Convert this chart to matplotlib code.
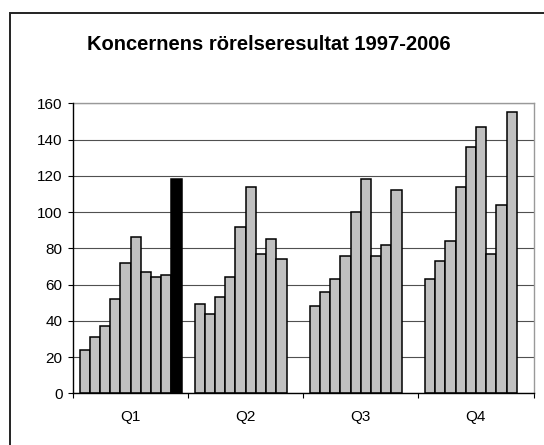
import matplotlib
matplotlib.use("Agg")
import matplotlib.pyplot as plt
from matplotlib.patches import Rectangle
import numpy as np

plt.rcParams['font.family'] = ['Liberation Sans', 'DejaVu Sans']

title = "Koncernens rörelseresultat 1997-2006"
quarters = ["Q1", "Q2", "Q3", "Q4"]
years = [1997, 1998, 1999, 2000, 2001, 2002, 2003, 2004, 2005, 2006]
q1 = [24, 31, 37, 52, 72, 86, 67, 64, 65, 118]
q2 = [49, 44, 53, 64, 92, 114, 77, 85, 74, None]
q3 = [48, 56, 63, 76, 100, 118, 76, 82, 112, None]
q4 = [63, 73, 84, 114, 136, 147, 77, 104, 155, None]
yticks = [0, 20, 40, 60, 80, 100, 120, 140, 160]

series = [q1, q2, q3, q4]

fig = plt.figure(figsize=(5.44, 4.45), dpi=100)
ax = fig.add_axes([73/544, 1-393.3/445, (533.5-73)/544, (393.3-103.3)/445])

n = len(years)
w = 0.0887
for qi, vals in enumerate(series):
    for yi, v in enumerate(vals):
        if v is None:
            continue
        color = 'black' if years[yi] == 2006 else '#c0c0c0'
        x = qi + (yi - (n - 1) / 2) * w
        ax.bar(x, v, width=w, color=color, edgecolor='black', linewidth=1.1, zorder=3)

ax.set_xlim(-0.5, len(quarters) - 0.5)
ax.set_ylim(0, 160)
ax.set_yticks(yticks)
ax.set_yticklabels([str(t) for t in yticks], fontsize=11)
ax.set_xticks(range(len(quarters)))
ax.set_xticklabels(quarters, fontsize=11)
ax.set_xticks(np.arange(-0.5, len(quarters)), minor=True)
ax.tick_params(axis='x', which='major', length=0, pad=12)
ax.tick_params(axis='x', which='minor', length=3.5, width=0.8, direction='out')
ax.tick_params(axis='y', length=3.5, width=0.8, direction='out', pad=4)
ax.yaxis.grid(True, color='#505050', linewidth=0.8, zorder=0)
ax.set_axisbelow(True)

for s in ['left', 'bottom']:
    ax.spines[s].set_color('black')
    ax.spines[s].set_linewidth(1.0)
    ax.spines[s].set_zorder(4)
for s in ['top', 'right']:
    ax.spines[s].set_color('#999999')
    ax.spines[s].set_linewidth(1.0)

fig.text(268.5/544, 1-45/445, title, ha='center', va='center',
         fontsize=14.5, fontweight='bold')

frame = Rectangle((10/544, -0.2), 1.2, 1-12.7/445+0.2, transform=fig.transFigure,
                  fill=False, edgecolor='#222222', linewidth=1.4)
fig.patches.append(frame)

fig.savefig("out.png", dpi=100)
